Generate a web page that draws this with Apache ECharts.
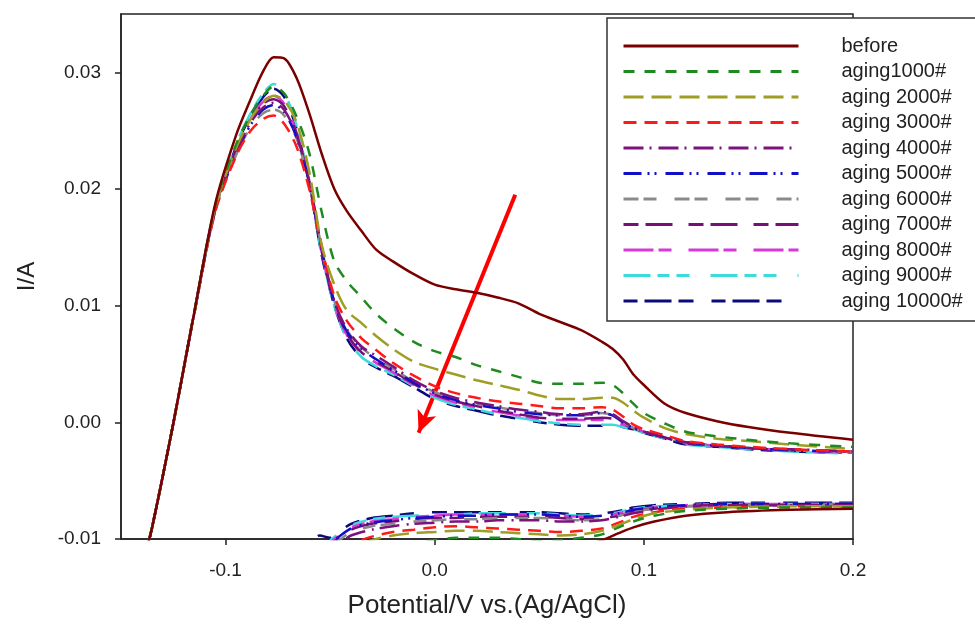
<!DOCTYPE html>
<html>
<head>
<meta charset="utf-8">
<script src="https://cdn.jsdelivr.net/npm/echarts@6/dist/echarts.min.js"></script>
<style>
html,body{margin:0;padding:0;background:#fff;}
#chart{width:975px;height:625px;}
</style>
</head>
<body>
<div id="chart"></div>
<script>
// ---- data ----
const seriesNames = ['before','aging1000#','aging 2000#','aging 3000#','aging 4000#','aging 5000#','aging 6000#','aging 7000#','aging 8000#','aging 9000#','aging 10000#'];
const xTicks = [-0.1, 0.0, 0.1, 0.2];
const yTicks = [-0.01, 0.00, 0.01, 0.02, 0.03];

// potential grid for the forward (anodic) sweep
const anodicX = [-0.139,-0.135,-0.125,-0.115,-0.105,-0.095,-0.088,-0.082,-0.077,-0.072,-0.066,-0.060,-0.054,-0.048,-0.042,-0.035,-0.028,-0.020,-0.010,0.000,0.010,0.020,0.030,0.040,0.050,0.060,0.070,0.080,0.085,0.090,0.095,0.100,0.110,0.120,0.135,0.150,0.170,0.200];
// potential grid for the reverse (cathodic) sweep
const cathodicX = [0.200,0.170,0.140,0.120,0.105,0.095,0.088,0.080,0.070,0.060,0.050,0.040,0.030,0.020,0.010,0.000,-0.010,-0.020,-0.030,-0.040,-0.045,-0.050,-0.055,-0.060];

const beforeA = [-0.0118,-0.0089,-0.0001,0.0094,0.0187,0.0246,0.0277,0.0301,0.0313,0.0312,0.0295,0.0265,0.0230,0.0200,0.0181,0.0164,0.0148,0.0138,0.0127,0.0118,0.0114,0.0111,0.0107,0.0102,0.0093,0.0086,0.0079,0.0069,0.0063,0.0054,0.0041,0.0032,0.0016,0.0008,0.0001,-0.0004,-0.0009,-0.0015];
const beforeC = [-0.0074,-0.0075,-0.0077,-0.0080,-0.0085,-0.0090,-0.0095,-0.0101,-0.0107,null,null,null,null,null,null,null,null,null,null,null,null,null,null,null];

const a1000A = [-0.0118,-0.0089,-0.0001,0.0094,0.0185,0.0238,0.0264,0.0280,0.0288,0.0282,0.0262,0.0231,0.0180,0.0138,0.0121,0.0107,0.0093,0.0081,0.0069,0.0061,0.0056,0.0049,0.0044,0.0039,0.0034,0.0033,0.0033,0.0034,0.0032,0.0025,0.0016,0.0008,-0.0001,-0.0008,-0.0012,-0.0015,-0.0018,-0.0021];
const a1000C = [-0.0073,-0.0073,-0.0074,-0.0076,-0.0080,-0.0085,-0.0090,-0.0096,-0.0099,-0.0101,-0.0102,-0.0100,-0.0099,-0.0099,-0.0099,-0.0101,-0.0103,-0.0105,null,null,null,null,null,null];

const a2000A = [-0.0118,-0.0089,-0.0001,0.0094,0.0184,0.0235,0.0260,0.0274,0.0280,0.0276,0.0257,0.0215,0.0152,0.0118,0.0096,0.0085,0.0074,0.0063,0.0052,0.0046,0.0041,0.0036,0.0032,0.0028,0.0023,0.0020,0.0020,0.0021,0.0021,0.0017,0.0010,0.0004,-0.0005,-0.0010,-0.0014,-0.0016,-0.0019,-0.0023];
const a2000C = [-0.0072,-0.0072,-0.0073,-0.0075,-0.0078,-0.0083,-0.0088,-0.0093,-0.0096,-0.0097,-0.0096,-0.0095,-0.0094,-0.0093,-0.0093,-0.0094,-0.0095,-0.0097,-0.0101,-0.0108,null,null,null,null];

const a3000A = [-0.0118,-0.0089,-0.0001,0.0093,0.0180,0.0228,0.0250,0.0260,0.0263,0.0256,0.0236,0.0200,0.0150,0.0108,0.0087,0.0072,0.0062,0.0051,0.0040,0.0031,0.0025,0.0021,0.0018,0.0016,0.0014,0.0012,0.0012,0.0013,0.0011,0.0005,-0.0002,-0.0006,-0.0011,-0.0016,-0.0019,-0.0021,-0.0023,-0.0025];
const a3000C = [-0.0072,-0.0072,-0.0073,-0.0074,-0.0077,-0.0081,-0.0086,-0.0091,-0.0093,-0.0094,-0.0093,-0.0092,-0.0091,-0.0090,-0.0089,-0.0090,-0.0092,-0.0094,-0.0098,-0.0104,null,null,null,null];

const a4000A = [-0.0118,-0.0089,-0.0001,0.0093,0.0182,0.0232,0.0257,0.0270,0.0274,0.0268,0.0246,0.0207,0.0150,0.0104,0.0080,0.0065,0.0057,0.0048,0.0036,0.0027,0.0021,0.0017,0.0014,0.0011,0.0009,0.0007,0.0007,0.0009,0.0007,0.0001,-0.0004,-0.0008,-0.0013,-0.0017,-0.0020,-0.0022,-0.0023,-0.0025];
const a4000C = [-0.0071,-0.0071,-0.0071,-0.0072,-0.0075,-0.0078,-0.0081,-0.0084,-0.0085,-0.0085,-0.0084,-0.0084,-0.0084,-0.0085,-0.0085,-0.0086,-0.0087,-0.0089,-0.0092,-0.0097,-0.0103,null,null,null];

const a5000A = [-0.0118,-0.0089,-0.0001,0.0093,0.0181,0.0230,0.0255,0.0268,0.0272,0.0266,0.0244,0.0205,0.0148,0.0103,0.0078,0.0063,0.0054,0.0045,0.0034,0.0025,0.0019,0.0015,0.0012,0.0009,0.0007,0.0006,0.0006,0.0008,0.0006,0.0000,-0.0005,-0.0008,-0.0013,-0.0017,-0.0020,-0.0022,-0.0024,-0.0025];
const a5000C = [-0.0070,-0.0070,-0.0070,-0.0071,-0.0073,-0.0075,-0.0078,-0.0080,-0.0081,-0.0080,-0.0079,-0.0079,-0.0079,-0.0080,-0.0080,-0.0081,-0.0082,-0.0084,-0.0086,-0.0091,-0.0097,-0.0104,null,null];

const a6000A = [-0.0118,-0.0089,-0.0001,0.0093,0.0181,0.0229,0.0253,0.0265,0.0268,0.0263,0.0243,0.0205,0.0149,0.0104,0.0079,0.0064,0.0055,0.0046,0.0035,0.0026,0.0020,0.0016,0.0013,0.0010,0.0008,0.0006,0.0006,0.0008,0.0006,0.0000,-0.0005,-0.0008,-0.0013,-0.0017,-0.0020,-0.0022,-0.0024,-0.0025];
const a6000C = [-0.0071,-0.0071,-0.0071,-0.0072,-0.0074,-0.0077,-0.0080,-0.0083,-0.0084,-0.0083,-0.0082,-0.0082,-0.0082,-0.0083,-0.0083,-0.0084,-0.0085,-0.0087,-0.0089,-0.0094,-0.0100,-0.0106,null,null];

const a7000A = [-0.0118,-0.0089,-0.0001,0.0094,0.0183,0.0233,0.0259,0.0273,0.0277,0.0271,0.0247,0.0205,0.0147,0.0102,0.0076,0.0060,0.0052,0.0044,0.0033,0.0024,0.0018,0.0014,0.0010,0.0007,0.0004,0.0003,0.0003,0.0004,0.0003,-0.0001,-0.0005,-0.0008,-0.0013,-0.0018,-0.0020,-0.0022,-0.0024,-0.0025];
const a7000C = [-0.0071,-0.0071,-0.0071,-0.0072,-0.0074,-0.0076,-0.0080,-0.0082,-0.0083,-0.0082,-0.0081,-0.0081,-0.0081,-0.0081,-0.0082,-0.0082,-0.0083,-0.0085,-0.0087,-0.0092,-0.0098,-0.0105,null,null];

const a8000A = [-0.0118,-0.0089,-0.0001,0.0094,0.0183,0.0234,0.0260,0.0275,0.0280,0.0273,0.0248,0.0205,0.0146,0.0101,0.0075,0.0059,0.0051,0.0043,0.0032,0.0023,0.0017,0.0013,0.0009,0.0006,0.0003,0.0002,0.0002,0.0002,0.0001,-0.0002,-0.0005,-0.0008,-0.0013,-0.0018,-0.0020,-0.0022,-0.0024,-0.0026];
const a8000C = [-0.0070,-0.0070,-0.0070,-0.0071,-0.0073,-0.0075,-0.0078,-0.0080,-0.0081,-0.0080,-0.0079,-0.0079,-0.0079,-0.0079,-0.0079,-0.0080,-0.0081,-0.0083,-0.0085,-0.0090,-0.0096,-0.0103,null,null];

const a9000A = [-0.0118,-0.0089,-0.0001,0.0094,0.0185,0.0238,0.0265,0.0282,0.0290,0.0283,0.0254,0.0206,0.0144,0.0100,0.0072,0.0056,0.0048,0.0041,0.0031,0.0021,0.0015,0.0011,0.0007,0.0004,0.0001,-0.0001,-0.0002,-0.0002,-0.0002,-0.0004,-0.0006,-0.0009,-0.0014,-0.0019,-0.0021,-0.0023,-0.0025,-0.0027];
const a9000C = [-0.0070,-0.0070,-0.0070,-0.0071,-0.0072,-0.0074,-0.0077,-0.0079,-0.0080,-0.0079,-0.0078,-0.0078,-0.0078,-0.0078,-0.0079,-0.0079,-0.0080,-0.0081,-0.0083,-0.0088,-0.0094,-0.0101,null,null];

const a10000A = [-0.0118,-0.0089,-0.0001,0.0094,0.0184,0.0236,0.0263,0.0279,0.0286,0.0279,0.0251,0.0205,0.0143,0.0100,0.0072,0.0055,0.0047,0.0040,0.0030,0.0020,0.0014,0.0010,0.0006,0.0003,0.0000,-0.0002,-0.0003,-0.0003,-0.0002,-0.0004,-0.0006,-0.0009,-0.0014,-0.0019,-0.0021,-0.0023,-0.0025,-0.0026];
const a10000C = [-0.0069,-0.0069,-0.0069,-0.0070,-0.0071,-0.0073,-0.0076,-0.0078,-0.0079,-0.0078,-0.0077,-0.0077,-0.0077,-0.0077,-0.0077,-0.0077,-0.0078,-0.0080,-0.0082,-0.0087,-0.0093,-0.0099,-0.0097,-0.0106];

// annotation arrow (data coordinates)
const arrowStart = [0.0385, 0.0195];
const arrowEnd = [-0.0077, -0.0009];

// ---- styles ----
const colors = ['#7a0000','#1f8a1f','#9e9e26','#ff1a1a','#7d127d','#1010c8','#8a8a8a','#761076','#d838d8','#3cdada','#0a0a7a'];
const dashes = ['solid',[11,10],[20,8],[13,8],[20,6,2,7],[18,6,2,5,2,9],[15,5,13,18],[15,7,27,16],[30,5,13,17],[27,7,12,7,13,21],[14,7,27,7,15,18]];
const anodic = [beforeA,a1000A,a2000A,a3000A,a4000A,a5000A,a6000A,a7000A,a8000A,a9000A,a10000A];
const cathodic = [beforeC,a1000C,a2000C,a3000C,a4000C,a5000C,a6000C,a7000C,a8000C,a9000C,a10000C];

function buildData(ax, ay, cx, cy){
  const d = ax.map((x,i)=>[x, ay[i]]);
  d.push([0.2, null]);
  cx.forEach((x,i)=>{ if(cy[i] !== null) d.push([x, cy[i]]); });
  return d;
}

const FONT = '"Liberation Sans", Arial, sans-serif';
const series = seriesNames.map((name, k) => ({
  name: name,
  type: 'line',
  data: buildData(anodicX, anodic[k], cathodicX, cathodic[k]),
  symbol: 'none',
  smooth: 0.3,
  connectNulls: false,
  clip: true,
  z: 20 - k,
  lineStyle: {color: colors[k], width: 2.5, type: dashes[k]},
  itemStyle: {color: colors[k]}
}));
series.push({
  name: 'arrow', type: 'line', data: [], symbol: 'none', z: 30,
  markLine: {
    silent: true, animation: false,
    symbol: ['none','arrow'], symbolSize: [15, 22],
    label: {show: false},
    lineStyle: {color: '#ff0000', width: 4, type: 'solid'},
    data: [[{coord: arrowStart}, {coord: arrowEnd}]]
  }
});

const chart = echarts.init(document.getElementById('chart'), null, {renderer: 'canvas'});
chart.setOption({
  animation: false,
  backgroundColor: '#ffffff',
  grid: {left: 121, right: 122, top: 14, bottom: 86, show: true, borderColor: '#222', borderWidth: 1.5, backgroundColor: 'transparent'},
  xAxis: {
    type: 'value', min: -0.15, max: 0.2,
    name: 'Potential/V vs.(Ag/AgCl)', nameLocation: 'middle', nameGap: 54,
    nameTextStyle: {fontFamily: FONT, fontSize: 26, color: '#222'},
    axisLine: {show: true, onZero: false, lineStyle: {color: '#222', width: 1.5}},
    axisTick: {show: true, inside: false, length: 6, customValues: xTicks, lineStyle: {color: '#222', width: 1.5}},
    axisLabel: {customValues: xTicks, margin: 22, fontFamily: FONT, fontSize: 19, color: '#222', formatter: v => v.toFixed(1)},
    splitLine: {show: false}
  },
  yAxis: {
    type: 'value', min: -0.01, max: 0.035,
    name: 'I/A', nameLocation: 'middle', nameGap: 82, nameRotate: 90,
    nameTextStyle: {fontFamily: FONT, fontSize: 24, color: '#222'},
    axisLine: {show: true, onZero: false, lineStyle: {color: '#222', width: 1.5}},
    axisTick: {show: true, inside: false, length: 6, customValues: yTicks, lineStyle: {color: '#222', width: 1.5}},
    axisLabel: {customValues: yTicks, margin: 20, fontFamily: FONT, fontSize: 19, color: '#222', formatter: v => v.toFixed(2)},
    splitLine: {show: false}
  },
  legend: {
    data: seriesNames,
    orient: 'vertical',
    left: 607, top: 18,
    padding: [18, 80, 10, 15],
    itemWidth: 175, itemHeight: 14, itemGap: 5.5,
    backgroundColor: '#fff',
    borderColor: '#333', borderWidth: 1.5,
    lineStyle: {width: 3},
    itemStyle: {opacity: 0, borderWidth: 0},
    textStyle: {fontFamily: FONT, fontSize: 20, color: '#222', lineHeight: 20, padding: [0,0,0,38]},
    selectedMode: false
  },
  series: series
});
</script>
</body>
</html>
